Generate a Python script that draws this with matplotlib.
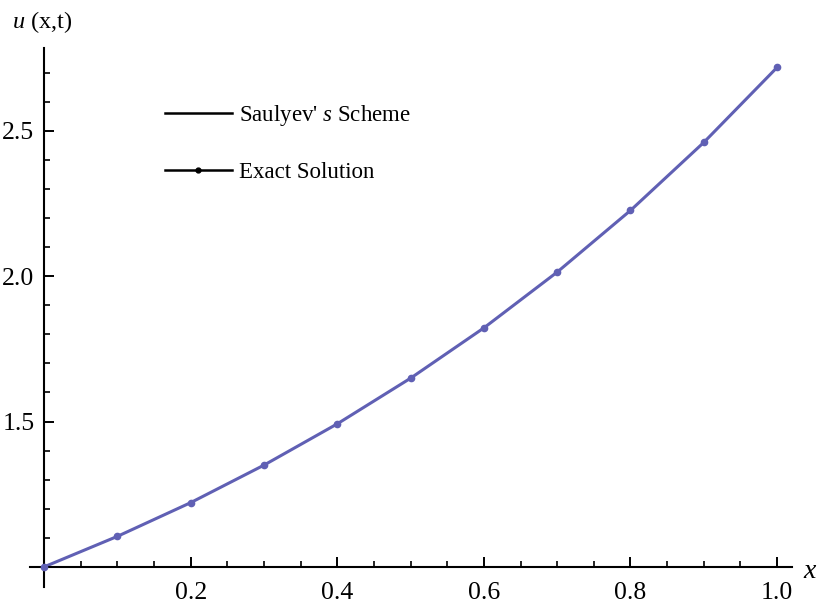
import matplotlib
matplotlib.use("Agg")
import matplotlib.pyplot as plt
from matplotlib.lines import Line2D
from matplotlib.ticker import MultipleLocator, FixedLocator

plt.rcParams["font.family"] = ["Liberation Serif", "DejaVu Serif"]
plt.rcParams["mathtext.fontset"] = "custom"
plt.rcParams["mathtext.rm"] = "Liberation Serif"
plt.rcParams["mathtext.it"] = "Liberation Serif:italic"

# grid points and solution values at t = 1
x = [0.0, 0.1, 0.2, 0.3, 0.4, 0.5, 0.6, 0.7, 0.8, 0.9, 1.0]
u_saulyev = [1.000, 1.105, 1.221, 1.350, 1.492, 1.649, 1.822, 2.014, 2.226, 2.460, 2.718]
u_exact = [1.000, 1.105, 1.221, 1.350, 1.492, 1.649, 1.822, 2.014, 2.226, 2.460, 2.718]

x_ticks = [0.2, 0.4, 0.6, 0.8, 1.0]
y_ticks = [1.5, 2.0, 2.5]

curve_color = "#6060b4"

fig = plt.figure(figsize=(8.23, 6.05), dpi=100)
ax = fig.add_axes([0.0365, 0.0298, 0.926, 0.891])

ax.plot(x, u_saulyev, color=curve_color, lw=2.2, zorder=2)
ax.plot(x, u_exact, ls="none", marker="o", ms=4.5, color=curve_color, zorder=3)

ax.set_xlim(-0.0191, 1.0205)
ax.set_ylim(0.931, 2.785)

# axes cross at (0, 1)
for side in ("top", "right"):
    ax.spines[side].set_visible(False)
ax.spines["left"].set_position(("data", 0))
ax.spines["bottom"].set_position(("data", 1.0))
for side in ("left", "bottom"):
    ax.spines[side].set_linewidth(1.5)

ax.xaxis.set_major_locator(FixedLocator(x_ticks))
ax.yaxis.set_major_locator(FixedLocator(y_ticks))
ax.xaxis.set_minor_locator(MultipleLocator(0.05))
ax.yaxis.set_minor_locator(MultipleLocator(0.1))
ax.set_xticklabels(["0.2", "0.4", "0.6", "0.8", "1.0"])
ax.set_yticklabels(["1.5", "2.0", "2.5"])
ax.tick_params(which="major", direction="in", length=7, width=1.4, labelsize=18.5)
ax.tick_params(axis="x", which="major", pad=11)
ax.tick_params(axis="y", which="major", pad=7)
ax.tick_params(which="minor", direction="in", length=4, width=1.2)

fig.text(0.014, 0.964, "$u$ (x,t)", fontsize=17.5, ha="left", va="center")
fig.text(0.985, 0.056, "$x$", fontsize=20, ha="center", va="center")

handles = [
    Line2D([], [], color="black", lw=1.8),
    Line2D([], [], color="black", lw=1.8, marker="o", ms=3.5),
]
labels = ["Saulyev' $s$ Scheme", "Exact Solution"]
ax.legend(handles, labels, loc="upper left", bbox_to_anchor=(0.186, 0.848),
          bbox_transform=fig.transFigure, frameon=False, fontsize=16.5,
          handlelength=2.93, handletextpad=0.3, labelspacing=1.48, borderpad=0)

fig.savefig("out.png", dpi=100)
